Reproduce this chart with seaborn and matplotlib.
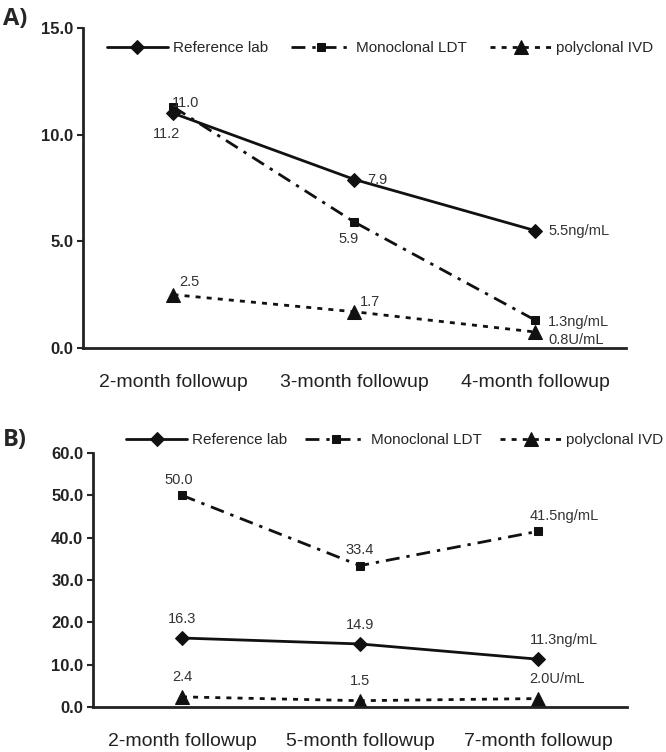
import matplotlib
matplotlib.use("Agg")
import matplotlib.pyplot as plt
import seaborn as sns
import pandas as pd

# --- data ---
cats_a = ["2-month followup", "3-month followup", "4-month followup"]
ref_a = [11.0, 7.9, 5.5]
mono_a = [11.3, 5.9, 1.3]
poly_a = [2.5, 1.7, 0.75]
ref_a_lbl = ["11.2", "7.9", "5.5ng/mL"]
mono_a_lbl = ["11.0", "5.9", "1.3ng/mL"]
poly_a_lbl = ["2.5", "1.7", "0.8U/mL"]

cats_b = ["2-month followup", "5-month followup", "7-month followup"]
ref_b = [16.3, 14.9, 11.3]
mono_b = [50.0, 33.4, 41.5]
poly_b = [2.4, 1.5, 2.0]
ref_b_lbl = ["16.3", "14.9", "11.3ng/mL"]
mono_b_lbl = ["50.0", "33.4", "41.5ng/mL"]
poly_b_lbl = ["2.4", "1.5", "2.0U/mL"]

series_names = ["Reference lab", "Monoclonal LDT", "polyclonal IVD"]

sns.set_style("white")
plt.rcParams["font.family"] = ["Liberation Sans", "DejaVu Sans"]

fig = plt.figure(figsize=(6.66, 7.52), dpi=100)
ax_a = fig.add_axes([0.1246, 0.5372, 0.8153, 0.4255])
ax_b = fig.add_axes([0.1396, 0.0598, 0.8018, 0.3378])

styles = [
    dict(marker="D", markersize=7.5, ls="-"),
    dict(marker="s", markersize=5.5, ls=(0, (5, 2.5, 1.2, 2.5))),
    dict(marker="^", markersize=10.5, ls=(0, (1.8, 2.2))),
]
txt_color = "#333333"


def draw(ax, cats, vals, lbls, offsets, ylim, yticks):
    x = list(range(len(cats)))
    for name, v, st in zip(series_names, vals, styles):
        df = pd.DataFrame({"x": x, "y": v})
        sns.lineplot(data=df, x="x", y="y", ax=ax, color="#111111", linewidth=2,
                     marker=st["marker"], markersize=st["markersize"],
                     markeredgecolor="#111111", label=name)
        ax.lines[-1].set_linestyle(st["ls"])
    for v, lb, offs in zip(vals, lbls, offsets):
        for i in range(len(v)):
            dx, dy, ha = offs[i]
            ax.annotate(lb[i], (x[i], v[i]), xytext=(dx, dy), textcoords="offset points",
                        ha=ha, va="center", fontsize=10.5, color=txt_color)
    ax.set_xlim(-0.5, 2.5)
    ax.set_ylim(*ylim)
    ax.set_yticks(yticks)
    ax.set_yticklabels([f"{t:.1f}" for t in yticks], fontsize=12, fontweight="bold", color="#222222")
    ax.set_xticks(x)
    ax.set_xticklabels(cats, fontsize=14, color="#222222")
    ax.tick_params(axis="x", length=0, pad=19)
    ax.tick_params(axis="y", length=4, width=1.5, direction="out", pad=3, left=True)
    ax.set_xlabel("")
    ax.set_ylabel("")
    for s in ["top", "right"]:
        ax.spines[s].set_visible(False)
    for s in ["left", "bottom"]:
        ax.spines[s].set_linewidth(2)
        ax.spines[s].set_color("#222222")


# offsets in points: (dx, dy, ha)
offs_a = [
    [(-5, -15, "center"), (9, 0, "left"), (9, 0, "left")],
    [(9, 3, "center"), (-4, -12, "center"), (9, -1, "left")],
    [(4, 9, "left"), (4, 7, "left"), (9, -6, "left")],
]
draw(ax_a, cats_a, [ref_a, mono_a, poly_a], [ref_a_lbl, mono_a_lbl, poly_a_lbl],
     offs_a, (0, 15), [0, 5, 10, 15])

offs_b = [
    [(0, 14, "center"), (0, 14, "center"), (-6, 14, "left")],
    [(-2, 11, "center"), (0, 11, "center"), (-6, 11, "left")],
    [(0, 14, "center"), (0, 14, "center"), (-6, 14, "left")],
]
draw(ax_b, cats_b, [ref_b, mono_b, poly_b], [ref_b_lbl, mono_b_lbl, poly_b_lbl],
     offs_b, (0, 60), [0, 10, 20, 30, 40, 50, 60])

for ax, anchor, cs in [(ax_a, (0.044, 0.9375), 1.5), (ax_b, (0.062, 1.051), 1.2)]:
    ax.legend(loc="center left", bbox_to_anchor=anchor, ncol=3, frameon=False,
              fontsize=11, handlelength=4.0, handletextpad=0.3, columnspacing=cs,
              borderpad=0, borderaxespad=0)

fig.text(0.005, 0.975, "A)", fontsize=17, fontweight="bold", family="Open Sans", va="center")
fig.text(0.005, 0.415, "B)", fontsize=17, fontweight="bold", family="Open Sans", va="center")

fig.savefig("out.png", dpi=100)
